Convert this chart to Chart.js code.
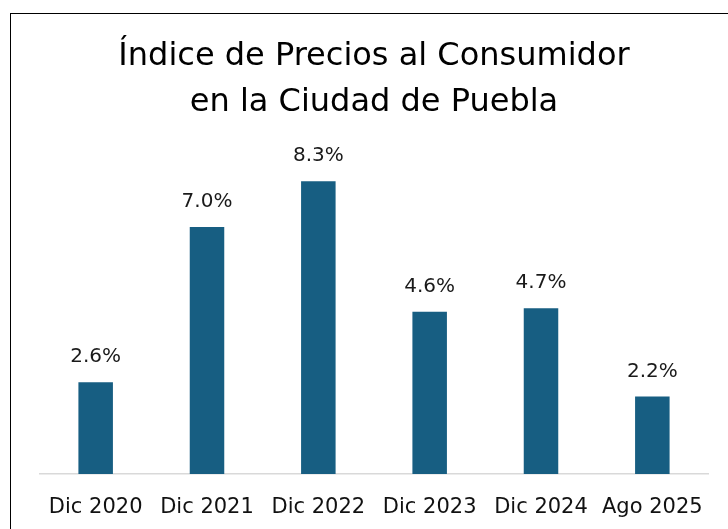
<!DOCTYPE html>
<html><head><meta charset="utf-8">
<script src="https://cdn.jsdelivr.net/npm/chart.js@4"></script>
<style>
html,body{margin:0;padding:0;background:#fff;overflow:hidden}
#wrap{position:absolute;left:0;top:0;width:728px;height:529px}
#frame{position:absolute;left:10px;top:13px;width:740px;height:540px;border:1.5px solid #000;box-sizing:border-box}
canvas{position:absolute;left:0;top:0}
</style></head>
<body><div id="wrap"><div id="frame"></div><canvas id="c" width="728" height="529"></canvas></div>
<script>
const categories = ["Dic 2020","Dic 2021","Dic 2022","Dic 2023","Dic 2024","Ago 2025"];
const values = [2.6, 7.0, 8.3, 4.6, 4.7, 2.2];
const titleLines = ["Índice de Precios al Consumidor","en la Ciudad de Puebla"];

const FONT = "'DejaVu Sans',sans-serif";
const labelPlugin = {
  id:'vlabels',
  afterDatasetsDraw(chart){
    const ctx = chart.ctx;
    const meta = chart.getDatasetMeta(0);
    ctx.save();
    ctx.font = "20px " + FONT;
    ctx.fillStyle = "#1a1a1a";
    ctx.textAlign = "center";
    ctx.textBaseline = "middle";
    meta.data.forEach((bar,i)=>{
      ctx.fillText(values[i].toFixed(1)+"%", bar.x, bar.y - 25);
    });
    ctx.restore();
  }
};

new Chart(document.getElementById('c'), {
  type:'bar',
  data:{labels:categories, datasets:[{data:values, backgroundColor:'#175E82', barPercentage:0.62, categoryPercentage:0.5}]},
  options:{
    responsive:false, animation:false, devicePixelRatio:1,
    layout:{padding:{left:40,right:20,top:0,bottom:6}},
    plugins:{
      legend:{display:false}, tooltip:{enabled:false},
      title:{display:true, text:titleLines, color:'#000', font:{family:FONT,size:32,weight:'normal',lineHeight:1.44}, padding:{top:34,bottom:0}}
    },
    scales:{
      x:{grid:{display:false, drawTicks:false}, border:{color:'#d9d9d9', width:1.5},
         ticks:{color:'#111', font:{family:FONT,size:21}, padding:21, maxRotation:0, minRotation:0, autoSkip:false},
         afterFit(scale){ scale.height = 49; scale.paddingLeft = 0; scale.paddingRight = 0; }},
      y:{display:false, min:0, max:9.86}
    }
  },
  plugins:[labelPlugin]
});
</script></body></html>
